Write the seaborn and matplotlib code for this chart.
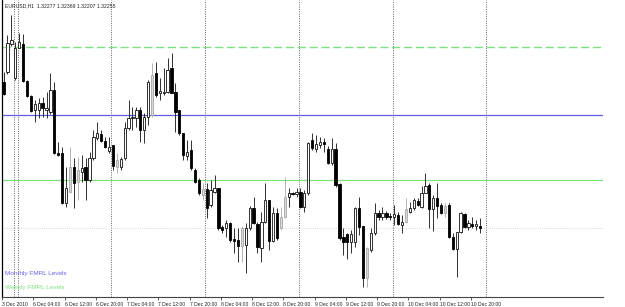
import matplotlib
matplotlib.use("Agg")
import matplotlib.pyplot as plt
import seaborn as sns
import numpy as np
import pandas as pd

# ---- data (EURUSD H1) ----
opens = [1.3372, 1.3382, 1.3410, 1.3376, 1.3406, 1.3410, 1.3373, 1.3358, 1.3344, 1.3344,
         1.3351, 1.3344, 1.3342, 1.3364, 1.3301, 1.3301, 1.3251, 1.3262, 1.3287, 1.3272,
         1.3282, 1.3287, 1.3274, 1.3296, 1.3316, 1.3320, 1.3313, 1.3303, 1.3309, 1.3287,
         1.3287, 1.3296, 1.3326, 1.3336, 1.3336, 1.3344, 1.3324, 1.3337, 1.3339, 1.3381,
         1.3361, 1.3361, 1.3362, 1.3386, 1.3362, 1.3344, 1.3321, 1.3298, 1.3304, 1.3284,
         1.3274, 1.3259, 1.3265, 1.3249, 1.3262, 1.3266, 1.3227, 1.3226, 1.3231, 1.3215,
         1.3214, 1.3208, 1.3209, 1.3226, 1.3246, 1.3230, 1.3206, 1.3232, 1.3254, 1.3213,
         1.3241, 1.3226, 1.3237, 1.3257, 1.3261, 1.3260, 1.3262, 1.3247, 1.3261, 1.3314,
         1.3305, 1.3309, 1.3312, 1.3305, 1.3291, 1.3305, 1.3270, 1.3217, 1.3220, 1.3212,
         1.3212, 1.3246, 1.3228, 1.3176, 1.3204, 1.3221, 1.3241, 1.3237, 1.3241, 1.3238,
         1.3237, 1.3239, 1.3229, 1.3232, 1.3242, 1.3246, 1.3253, 1.3247, 1.3261, 1.3269,
         1.3245, 1.3256, 1.3249, 1.3241, 1.3249, 1.3217, 1.3205, 1.3222, 1.3240, 1.3227,
         1.3230, 1.3228, 1.3228]
highs = [1.3382, 1.3419, 1.3439, 1.3412, 1.3421, 1.3420, 1.3374, 1.3359, 1.3354, 1.3356,
         1.3357, 1.3362, 1.3381, 1.3372, 1.3312, 1.3307, 1.3287, 1.3307, 1.3296, 1.3297,
         1.3299, 1.3296, 1.3302, 1.3324, 1.3332, 1.3324, 1.3317, 1.3317, 1.3309, 1.3301,
         1.3297, 1.3332, 1.3354, 1.3347, 1.3347, 1.3347, 1.3341, 1.3374, 1.3391, 1.3392,
         1.3376, 1.3386, 1.3396, 1.3401, 1.3371, 1.3344, 1.3321, 1.3314, 1.3314, 1.3286,
         1.3276, 1.3271, 1.3271, 1.3274, 1.3279, 1.3266, 1.3229, 1.3234, 1.3232, 1.3226,
         1.3226, 1.3228, 1.3231, 1.3248, 1.3257, 1.3232, 1.3242, 1.3271, 1.3254, 1.3247,
         1.3246, 1.3247, 1.3277, 1.3266, 1.3262, 1.3266, 1.3266, 1.3264, 1.3312, 1.3321,
         1.3319, 1.3317, 1.3316, 1.3308, 1.3316, 1.3311, 1.3271, 1.3226, 1.3221, 1.3224,
         1.3247, 1.3257, 1.3228, 1.3207, 1.3226, 1.3251, 1.3244, 1.3247, 1.3243, 1.3241,
         1.3249, 1.3242, 1.3239, 1.3256, 1.3252, 1.3256, 1.3256, 1.3268, 1.3281, 1.3271,
         1.3259, 1.3271, 1.3251, 1.3251, 1.3251, 1.3221, 1.3222, 1.3242, 1.3241, 1.3234,
         1.3237, 1.3234, 1.3236]
lows = [1.3359, 1.3380, 1.3408, 1.3374, 1.3406, 1.3372, 1.3357, 1.3342, 1.3332, 1.3336,
        1.3337, 1.3336, 1.3340, 1.3300, 1.3298, 1.3250, 1.3247, 1.3261, 1.3246, 1.3254,
        1.3272, 1.3254, 1.3272, 1.3294, 1.3314, 1.3312, 1.3306, 1.3301, 1.3284, 1.3281,
        1.3284, 1.3294, 1.3324, 1.3324, 1.3327, 1.3312, 1.3311, 1.3329, 1.3337, 1.3357,
        1.3354, 1.3359, 1.3361, 1.3361, 1.3322, 1.3319, 1.3294, 1.3294, 1.3284, 1.3271,
        1.3259, 1.3254, 1.3236, 1.3247, 1.3261, 1.3224, 1.3221, 1.3217, 1.3212, 1.3201,
        1.3192, 1.3192, 1.3181, 1.3224, 1.3230, 1.3201, 1.3192, 1.3231, 1.3204, 1.3212,
        1.3214, 1.3224, 1.3236, 1.3247, 1.3259, 1.3257, 1.3246, 1.3242, 1.3259, 1.3304,
        1.3302, 1.3306, 1.3302, 1.3290, 1.3289, 1.3267, 1.3214, 1.3199, 1.3195, 1.3201,
        1.3207, 1.3219, 1.3167, 1.3167, 1.3202, 1.3219, 1.3234, 1.3234, 1.3235, 1.3234,
        1.3229, 1.3229, 1.3221, 1.3231, 1.3241, 1.3244, 1.3248, 1.3246, 1.3261, 1.3226,
        1.3223, 1.3236, 1.3240, 1.3237, 1.3216, 1.3204, 1.3177, 1.3221, 1.3226, 1.3224,
        1.3226, 1.3224, 1.3221]
closes = [1.3360, 1.3411, 1.3414, 1.3406, 1.3412, 1.3373, 1.3358, 1.3343, 1.3350, 1.3351,
          1.3346, 1.3346, 1.3364, 1.3301, 1.3299, 1.3251, 1.3266, 1.3287, 1.3271, 1.3284,
          1.3286, 1.3274, 1.3296, 1.3317, 1.3321, 1.3313, 1.3307, 1.3307, 1.3288, 1.3294,
          1.3295, 1.3326, 1.3336, 1.3337, 1.3344, 1.3324, 1.3337, 1.3372, 1.3379, 1.3359,
          1.3363, 1.3362, 1.3384, 1.3361, 1.3342, 1.3321, 1.3299, 1.3302, 1.3286, 1.3272,
          1.3261, 1.3265, 1.3246, 1.3264, 1.3266, 1.3226, 1.3224, 1.3231, 1.3214, 1.3213,
          1.3208, 1.3226, 1.3226, 1.3246, 1.3231, 1.3207, 1.3232, 1.3254, 1.3213, 1.3241,
          1.3216, 1.3237, 1.3257, 1.3261, 1.3260, 1.3262, 1.3247, 1.3261, 1.3311, 1.3306,
          1.3310, 1.3312, 1.3310, 1.3291, 1.3305, 1.3269, 1.3216, 1.3212, 1.3212, 1.3220,
          1.3246, 1.3227, 1.3176, 1.3206, 1.3221, 1.3241, 1.3237, 1.3241, 1.3237, 1.3237,
          1.3240, 1.3230, 1.3232, 1.3245, 1.3246, 1.3254, 1.3249, 1.3261, 1.3268, 1.3245,
          1.3256, 1.3248, 1.3241, 1.3248, 1.3217, 1.3205, 1.3222, 1.3241, 1.3227, 1.3231,
          1.3228, 1.3230, 1.3226]
gray_bars = [17, 19, 29, 38, 51, 61, 71, 72, 93, 103, 113]

tick_bars = [0, 8, 16, 24, 32, 40, 48, 56, 64, 72, 80, 88, 96, 104, 112, 120]
tick_labels = ["3 Dec 2010", "6 Dec 04:00", "6 Dec 12:00", "6 Dec 20:00",
               "7 Dec 04:00", "7 Dec 12:00", "7 Dec 20:00", "8 Dec 04:00",
               "8 Dec 12:00", "8 Dec 20:00", "9 Dec 04:00", "9 Dec 12:00",
               "9 Dec 20:00", "10 Dec 04:00", "10 Dec 12:00", "10 Dec 20:00"]
day_separators = [3, 4, 28, 52, 76, 100, 124]

monthly_level = 1.3339
weekly_level = 1.3274
weekly_level_dashed = 1.3407
bid_price = 1.3226
title_text = "EURUSD,H1  1.32277 1.32369 1.32207 1.32255"

df = pd.DataFrame({"open": opens, "high": highs, "low": lows, "close": closes})
df["bar"] = np.arange(len(df))

sns.set_style("white")
plt.rcParams["font.family"] = ["Liberation Sans", "DejaVu Sans"]

W, H = 625, 307
fig = plt.figure(figsize=(W / 100, H / 100), dpi=100)
ax = fig.add_axes([2 / W, 10 / H, 601 / W, 297 / H])

px = 3.91  # pixels per bar
ax.set_xlim(-1 / px, 600 / px)
ax.set_ylim(1.3454 - 0.0297, 1.3454)

GREEN = "#7ee07e"
BLUE = "#5f5fe6"

# day separators
for b in day_separators:
    ax.axvline(b - 0.4, color="#6e6e6e", lw=0.72, ls=(0, (1, 1.3)), zorder=1)

# levels
ax.axhline(weekly_level_dashed, color=GREEN, lw=1.0, ls=(0, (6, 2.5)), zorder=1)
ax.axhline(monthly_level, color=BLUE, lw=0.9, zorder=1)
ax.axhline(weekly_level, color=GREEN, lw=0.9, zorder=1)
ax.axhline(bid_price, color="#cfcfcf", lw=0.6, ls=(0, (1, 1.5)), zorder=1)

# candles
for i, r in df.iterrows():
    gray = i in gray_bars
    wick_c = "#a8a8a8" if gray else "#111111"
    ax.vlines(r["bar"], r["low"], r["high"], color=wick_c, lw=0.6, zorder=2)
    bot = min(r["open"], r["close"])
    h = abs(r["close"] - r["open"])
    if h < 0.00005:
        h = 0.00005
    if r["close"] < r["open"]:
        fc, ec = "black", "black"
    elif gray:
        fc, ec = "#d8d8d8", "#a8a8a8"
    else:
        fc, ec = "white", "#111111"
    ax.bar(r["bar"], h, bottom=bot, width=0.58, color=fc, edgecolor=ec,
           linewidth=0.6, zorder=3)

# axes styling
for s in ["top", "right"]:
    ax.spines[s].set_visible(False)
ax.spines["left"].set_color("black")
ax.spines["left"].set_linewidth(0.9)
ax.spines["bottom"].set_color("#444444")
ax.spines["bottom"].set_linewidth(0.8)
ax.set_yticks([])
ax.set_xticks([b - 0.4 for b in tick_bars])
ax.set_xticklabels(tick_labels, fontsize=3.6, ha="left", color="#222222")
ax.tick_params(axis="x", direction="out", length=2.5, width=0.6, pad=1,
               color="#444444", bottom=True)

fig.text(5 / W, 1 - 6 / H, title_text, fontsize=3.7, va="center", ha="left",
         color="#222222")
fig.text(5 / W, 1 - 274 / H, "Monthly FMRL Levels", fontsize=4.6, va="center",
         ha="left", color="#6464f0")
fig.text(5 / W, 1 - 287 / H, "Weekly FMRL Levels", fontsize=4.6, va="center",
         ha="left", color=GREEN)

fig.savefig("out.png", dpi=100, facecolor="white")
